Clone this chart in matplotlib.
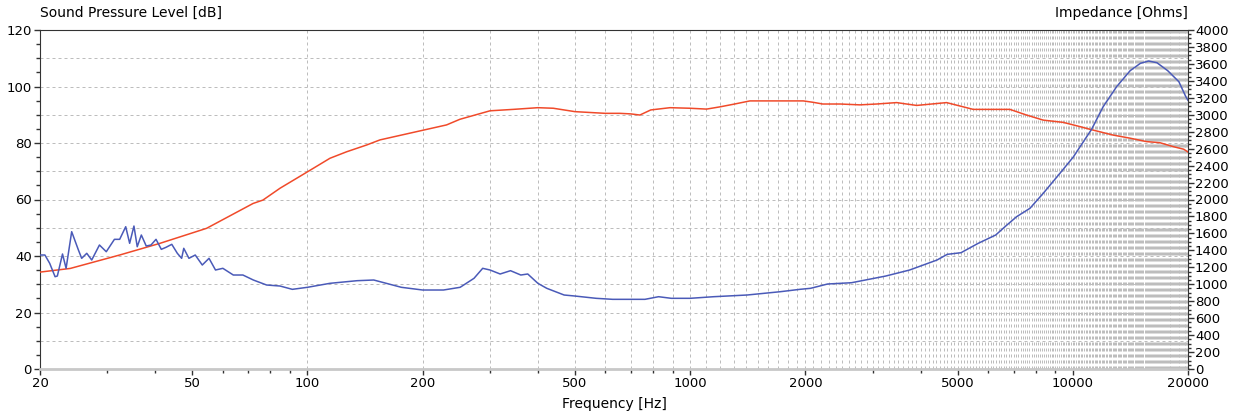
import matplotlib
matplotlib.use('Agg')
import matplotlib.pyplot as plt
from matplotlib.ticker import MultipleLocator, NullFormatter

plt.rcParams['font.family'] = 'DejaVu Sans'

# SPL curve (left axis, dB)
spl_freq = [20, 24, 32.4, 41.2, 54.5, 72.1, 76.5, 84.8, 100, 114.5, 126.6, 142.8, 154.7,
            200, 230.9, 250.3, 300, 344.9, 400, 438.9, 500, 600, 655, 700, 739, 789,
            886, 999, 1104, 1197, 1296, 1433, 1975, 2097, 2221, 2467, 2777, 3070,
            3464, 3907, 4679, 5493, 6848, 7570, 8370, 9441, 10440, 11196, 12750,
            14120, 15575, 16890, 18320, 19490, 20000]
spl_db = [34.3, 35.6, 40.4, 44.5, 49.8, 58.6, 59.8, 64.0, 69.8, 74.6, 76.9, 79.3, 81.1,
          84.5, 86.4, 88.4, 91.4, 91.9, 92.5, 92.3, 91.1, 90.5, 90.5, 90.3, 89.9, 91.7,
          92.5, 92.3, 92.0, 92.8, 93.7, 94.9, 94.9, 94.4, 93.8, 93.8, 93.5, 93.8,
          94.3, 93.3, 94.3, 91.9, 91.9, 89.9, 88.1, 87.3, 85.8, 84.7, 82.8,
          81.7, 80.5, 80.1, 78.7, 77.8, 76.8]

# impedance curve (right axis, Ohms)
imp_freq = [20, 20.6, 21.2, 21.9, 22.2, 22.9, 23.4, 24.2, 25.2, 25.7, 26.5, 27.3, 28.6,
            29.8, 31.3, 32.3, 33.5, 34.3, 35.2, 35.9, 36.8, 37.9, 39.0, 40.2, 41.5,
            42.7, 44.2, 45.7, 46.9, 47.5, 49.0, 50.9, 53.1, 55.3, 57.5, 60.1, 64.0,
            67.8, 72.2, 78.2, 84.8, 91.3, 100, 114.5, 134.8, 149, 175.9, 200, 226.7,
            250.6, 272.4, 287, 300, 318.8, 339.3, 361, 376.4, 400, 422, 468.5, 500,
            568, 627.6, 762, 827, 893, 1000, 1152, 1409, 1720, 1936, 2064, 2287, 2641,
            3245, 3746, 4418, 4698, 5103, 5660, 6288, 6680, 7130, 7727, 8370, 9254,
            10024, 10544, 11196, 12004, 13015, 14120, 15020, 15780, 16590, 17700,
            18930, 19740, 20000]
imp_ohm = [1345, 1345, 1247, 1089, 1097, 1357, 1188, 1620, 1404, 1306, 1365, 1286, 1463,
           1384, 1530, 1530, 1679, 1483, 1687, 1443, 1581, 1451, 1463, 1530, 1412,
           1436, 1471, 1365, 1306, 1424, 1306, 1345, 1227, 1306, 1168, 1188, 1109,
           1109, 1050, 991, 979, 940, 964, 1011, 1042, 1050, 964, 932, 932,
           964, 1070, 1188, 1168, 1121, 1160, 1109, 1121, 1011, 952, 873, 861,
           834, 822, 822, 853, 834, 834, 853, 873, 912, 940, 952, 1003, 1018,
           1097, 1168, 1286, 1353, 1372, 1483, 1581, 1687, 1797, 1896, 2073, 2309,
           2500, 2650, 2828, 3095, 3331, 3520, 3607, 3634, 3614, 3520,
           3390, 3213, 3170]

x_major = [20, 50, 100, 200, 500, 1000, 2000, 5000, 10000, 20000]
x_minor = [30, 40, 60, 70, 80, 90, 300, 400, 600, 700, 800, 900,
           3000, 4000, 6000, 7000, 8000, 9000]

grid_col = '#bdbdbd'
dash = (0, (3, 3))

fig = plt.figure(figsize=(12.34, 4.18), dpi=100)
ax = fig.add_axes([40 / 1234, 49 / 418, 1148 / 1234, 339 / 418])
ax.set_xscale('log')
ax.set_xlim(20, 20000)
ax.set_ylim(0, 120)

# grid: vertical line every 100 Hz, horizontal every 10 dB
for f in range(100, 20000, 100):
    ax.axvline(f, color=grid_col, lw=0.72, ls=dash, zorder=0)
for v in range(10, 120, 10):
    ax.axhline(v, color=grid_col, lw=0.72, ls=dash, zorder=0)

ax.plot(spl_freq, spl_db, color='#f04a2a', lw=1.1, zorder=3)

ax.set_xticks(x_major, labels=[str(v) for v in x_major])
ax.set_xticks(x_minor, minor=True)
ax.xaxis.set_minor_formatter(NullFormatter())
ax.yaxis.set_major_locator(MultipleLocator(20))
ax.yaxis.set_minor_locator(MultipleLocator(5))
ax.tick_params(axis='both', which='major', length=4, width=1, color='#333333',
               labelsize=9.5, pad=2)
ax.tick_params(axis='both', which='minor', length=3, width=1, color='#333333')

ax.spines['bottom'].set_color('#c8c8c8')
ax.spines['bottom'].set_linewidth(2)
ax.spines['left'].set_color('#333333')
ax.spines['top'].set_color('#333333')
ax.spines['right'].set_visible(False)

tw = ax.twinx()
tw.set_ylim(0, 4000)
tw.plot(imp_freq, imp_ohm, color='#4a5ab8', lw=1.1)
tw.yaxis.set_major_locator(MultipleLocator(200))
tw.yaxis.set_minor_locator(MultipleLocator(50))
tw.tick_params(axis='y', which='major', length=4, width=1, color='#333333',
               labelsize=9.5, pad=1)
tw.tick_params(axis='y', which='minor', length=2, width=1, color='#333333')
for s in ['left', 'top', 'bottom']:
    tw.spines[s].set_visible(False)
tw.spines['right'].set_color('#333333')

fig.text(40 / 1234, 1 - 13 / 418, 'Sound Pressure Level [dB]', ha='left', va='center',
         fontsize=10)
fig.text(1188 / 1234, 1 - 13 / 418, 'Impedance [Ohms]', ha='right', va='center',
         fontsize=10)
fig.text(614 / 1234, 1 - 404 / 418, 'Frequency [Hz]', ha='center', va='center',
         fontsize=10)

fig.savefig('out.png', dpi=100)
